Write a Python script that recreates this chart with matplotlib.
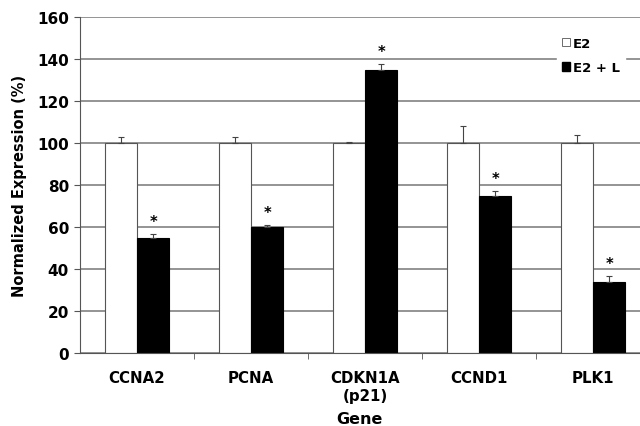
import numpy as np
import matplotlib.pyplot as plt
from matplotlib.patches import Patch

plt.rcParams['font.family'] = 'DejaVu Sans'
plt.rcParams['font.weight'] = 'bold'

genes = ['CCNA2', 'PCNA', 'CDKN1A\n(p21)', 'CCND1', 'PLK1']
e2_vals = [100, 100, 100, 100, 100]
e2_err = [3, 3, 0.5, 8, 4]
e2l_vals = [55, 60, 135, 75, 34]
e2l_err = [1.5, 1, 2.5, 2, 2.5]
significant = [True, True, True, True, True]

fig = plt.figure(figsize=(6.4, 4.27), dpi=100)
# right edge of the axes runs past the figure, as in the original
ax = fig.add_axes([80 / 640, 73 / 427, 570 / 640, 336 / 427])

x = np.arange(len(genes))
w = 0.285

# gridlines behind the bars
ax.set_axisbelow(True)
ax.yaxis.grid(True, color='#777777', linewidth=1.1)

ax.bar(x - w / 2, e2_vals, w, color='white', edgecolor='#555555', linewidth=0.8, zorder=2)
ax.bar(x + w / 2, e2l_vals, w, color='black', edgecolor='black', linewidth=0.8, zorder=2)

# upward error bars only
ax.errorbar(x - w / 2, e2_vals, yerr=[np.zeros(len(x)), e2_err], fmt='none',
            ecolor='#444444', elinewidth=0.8, capsize=2, capthick=0.8, zorder=3)
ax.errorbar(x + w / 2, e2l_vals, yerr=[np.zeros(len(x)), e2l_err], fmt='none',
            ecolor='#444444', elinewidth=0.8, capsize=2, capthick=0.8, zorder=3)

for i in range(len(x)):
    if significant[i]:
        ax.text(x[i] + w / 2, e2l_vals[i] + e2l_err[i] + 2.5, '*', ha='center', va='bottom',
                fontsize=10.5, fontweight='bold')

ax.set_xlim(-0.5, len(genes) - 0.5)
ax.set_ylim(0, 160)
ax.set_yticks(range(0, 161, 20))
ax.set_xticks(x)
ax.set_xticklabels(genes, fontsize=10.8, fontweight='bold', linespacing=1.25)
ax.set_xticks(np.arange(0.5, len(genes) - 0.5, 1), minor=True)
ax.tick_params(axis='x', which='major', length=0, pad=12)
ax.tick_params(axis='x', which='minor', length=4, color='#555555')
ax.tick_params(axis='y', length=4, labelsize=11, pad=4, color='#555555')
for lab in ax.get_yticklabels():
    lab.set_fontweight('bold')

ax.spines['top'].set_visible(False)
ax.spines['right'].set_visible(False)
ax.spines['left'].set_color('#555555')
ax.spines['bottom'].set_color('#555555')

ax.set_ylabel('Normalized Expression (%)', fontsize=10.5, fontweight='bold', labelpad=7)
ax.set_xlabel('Gene', fontsize=11.5, fontweight='bold', va='center')
ax.xaxis.set_label_coords(359 / 640, 7 / 427, transform=fig.transFigure)

handles = [Patch(facecolor='white', edgecolor='#555555', linewidth=0.6),
           Patch(facecolor='black', edgecolor='black')]
leg = ax.legend(handles, ['E2', 'E2 + L'], loc='upper left',
                bbox_to_anchor=(550 / 640, 401 / 427), bbox_transform=fig.transFigure,
                frameon=True, fancybox=False, edgecolor='white', framealpha=1,
                handlelength=0.6, handleheight=0.6, handletextpad=0.25,
                labelspacing=0.85, borderpad=0.4, prop={'size': 9.5, 'weight': 'bold'})

fig.savefig('out.png', dpi=100)
